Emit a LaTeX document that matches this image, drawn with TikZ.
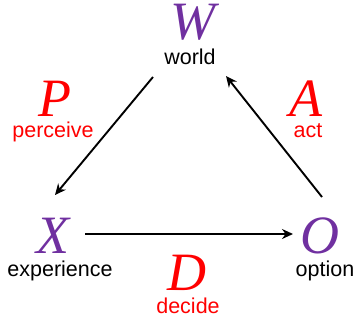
\documentclass[tikz,border=0pt]{standalone}
\usepackage{fontspec}
\setsansfont{Liberation Sans}
\newfontfamily\letterfont{Liberation Serif}
\usepackage{tikz}
\usetikzlibrary{arrows.meta}
\definecolor{stpurple}{HTML}{7030A0}
\definecolor{stred}{HTML}{FF0000}

\begin{document}
\begin{tikzpicture}[x=1pt, y=-1pt,
    letter/.style={font=\letterfont\itshape\fontsize{54}{58}\selectfont, anchor=base, inner sep=0pt,
        text height=37pt, text depth=1pt},
    word/.style={font=\sffamily\fontsize{21.5}{24}\selectfont, anchor=base, inner sep=0pt,
        text height=15pt, text depth=4pt},
    link/.style={line width=1.9pt, -{Stealth[length=11pt, width=10pt]}}]
\useasboundingbox (0,0) rectangle (355,320);
% Cycle: world -> experience -> option -> world

% States (purple)
\node[letter, stpurple] (W) at (193,40) {W};
\node[word] (world) at (190,65) {world};
\node[letter, stpurple] (X) at (53,253) {X};
\node[word] (experience) at (60,276) {experience};
\node[letter, stpurple] (O) at (320,253) {O};
\node[word] (option) at (325,276) {option};

% Processes (red)
\node[letter, stred] (P) at (55,117) {P};
\node[word, stred] (perceive) at (53,138) {perceive};
\node[letter, stred] (A) at (306,117) {A};
\node[word, stred] (act) at (308,138) {act};
\node[letter, stred] (D) at (187,290) {D};
\node[word, stred] (decide) at (188,313) {decide};

% Arrow ends
\coordinate (pfrom) at (153,77);
\coordinate (pto) at (55,195);
\coordinate (dfrom) at (85,234);
\coordinate (dto) at (293,234);
\coordinate (afrom) at (322,197);
\coordinate (ato) at (226,76);

\draw[link] (pfrom) -- (pto);
\draw[link] (dfrom) -- (dto);
\draw[link] (afrom) -- (ato);
\end{tikzpicture}
\end{document}
